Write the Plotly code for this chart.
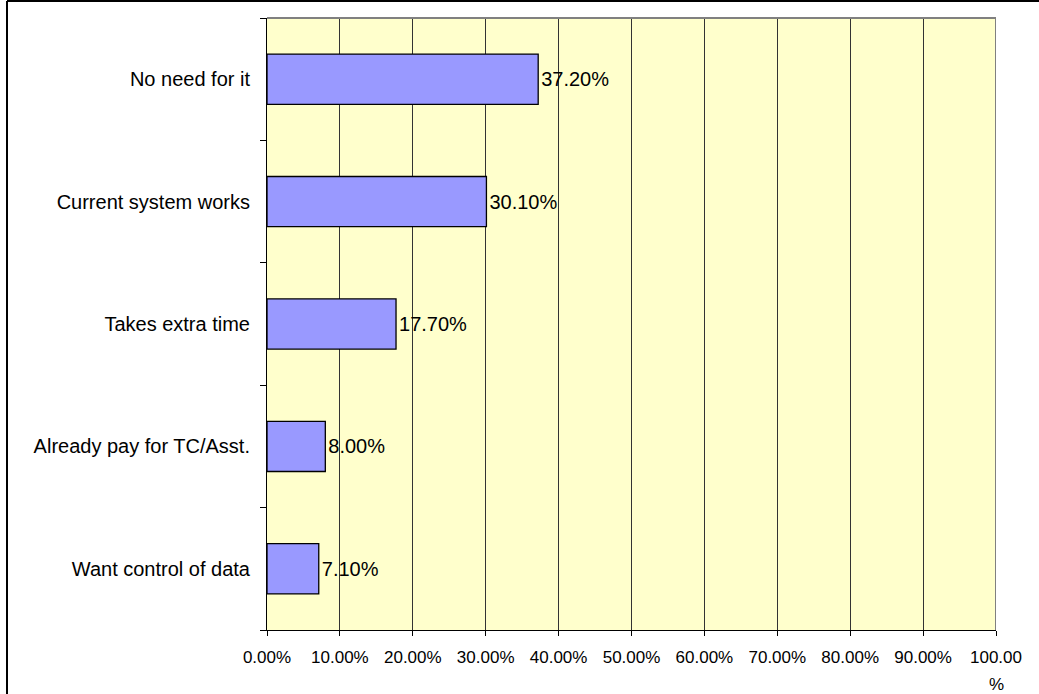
import plotly.graph_objects as go

# Reasons for not using the service (share of respondents, %)
categories = [
    "Want control of data",
    "Already pay for TC/Asst.",
    "Takes extra time",
    "Current system works",
    "No need for it",
]
values = [7.1, 8.0, 17.7, 30.1, 37.2]
labels = ["7.10%", "8.00%", "17.70%", "30.10%", "37.20%"]

tick_vals = [0, 10, 20, 30, 40, 50, 60, 70, 80, 90, 100]
tick_text = ["0.00%", "10.00%", "20.00%", "30.00%", "40.00%", "50.00%",
             "60.00%", "70.00%", "80.00%", "90.00%", "100.00"]
wrapped_suffix = "%"   # second line of the last tick label

W, H = 1039, 694
L, R, T, B = 267, 43, 18, 64
FONT = "Liberation Sans, Arial, sans-serif"

px = lambda x: (x - L) / (W - L - R)
py = lambda y: (H - B - y) / (H - T - B)

fig = go.Figure(
    go.Bar(
        y=categories,
        x=values,
        orientation="h",
        width=0.41,
        marker=dict(color="#9999FF", line=dict(color="#000000", width=1.3)),
        text=labels,
        textposition="outside",
        textfont=dict(family=FONT, size=20, color="#000000"),
        cliponaxis=False,
    )
)

fig.update_layout(
    width=W,
    height=H,
    margin=dict(l=L, r=R, t=T, b=B),
    paper_bgcolor="#FFFFFF",
    plot_bgcolor="#FFFFCC",
    showlegend=False,
    font=dict(family=FONT, size=17, color="#000000"),
    xaxis=dict(
        range=[0, 100],
        tickvals=tick_vals,
        ticktext=tick_text,
        ticks="outside",
        ticklen=5,
        tickcolor="#000000",
        showgrid=True,
        gridcolor="#333333",
        gridwidth=1,
        zeroline=False,
        showline=True,
        linecolor="#000000",
        linewidth=1,
        mirror=False,
        ticklabelstandoff=7,
        tickfont=dict(size=17),
    ),
    yaxis=dict(
        categoryorder="array",
        categoryarray=categories,
        ticks="outside",
        tickson="boundaries",
        ticklen=6,
        tickcolor="#000000",
        showgrid=False,
        showline=True,
        linecolor="#000000",
        linewidth=1,
        ticklabelstandoff=12,
        tickfont=dict(size=20),
    ),
)

# wrapped remainder of the "100.00%" tick label
fig.add_annotation(x=100, xref="x", y=py(684), yref="paper", yanchor="middle",
                   text=wrapped_suffix, showarrow=False,
                   font=dict(family=FONT, size=17, color="#000000"))

# grey frame on the top and right edges of the plot area
fig.add_shape(type="line", xref="x", yref="paper", x0=100, x1=100, y0=0, y1=1,
              line=dict(color="#808080", width=2))
fig.add_shape(type="line", xref="x", yref="paper", x0=0, x1=100, y0=1, y1=1,
              line=dict(color="#808080", width=2))

# outer border of the chart (top and left edges)
fig.add_shape(type="line", xref="paper", yref="paper",
              x0=px(7), x1=px(1039), y0=py(1), y1=py(1),
              line=dict(color="#000000", width=2))
fig.add_shape(type="line", xref="paper", yref="paper",
              x0=px(7), x1=px(7), y0=py(1), y1=py(694),
              line=dict(color="#000000", width=2))

fig.write_html("out.html")
